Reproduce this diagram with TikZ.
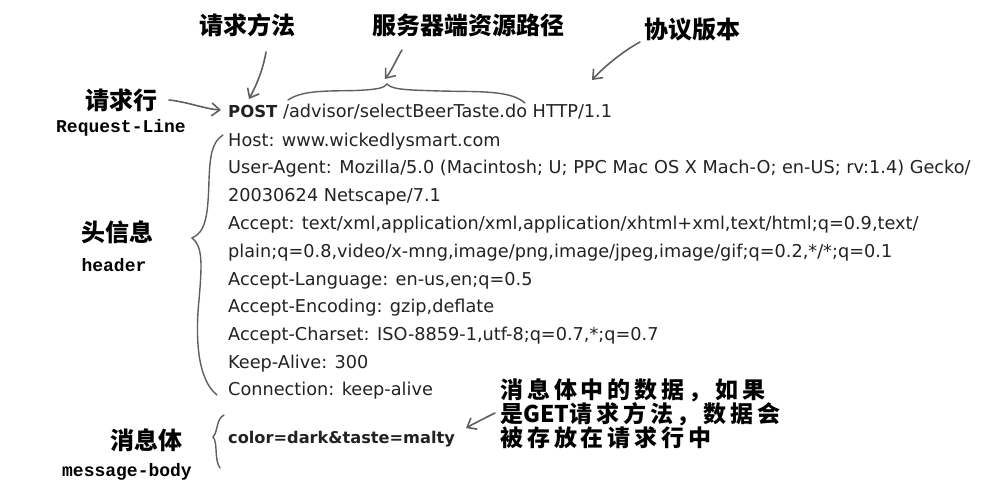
\documentclass[tikz,border=0pt]{standalone}
\usepackage{fontspec}
\setmainfont{DejaVu Sans}
\newfontfamily\cjk{Noto Sans CJK SC}
\newfontfamily\cjknote{Noto Sans CJK SC}[LetterSpace=17]
\newfontfamily\monob{Liberation Mono}
\usetikzlibrary{arrows.meta}
\definecolor{ink}{RGB}{34,34,34}
\definecolor{pen}{RGB}{95,95,95}
\tikzset{
  body/.style={anchor=base west, inner sep=0pt, text=ink, font=\fontsize{17.7}{20}\selectfont},
  cn/.style={inner sep=0pt, text=black, font=\cjk\bfseries\fontsize{24}{24}\selectfont},
  mono/.style={inner sep=0pt, text=black, font=\monob\bfseries\fontsize{18}{18}\selectfont},
  arr/.style={draw=pen, line width=1.6pt, line cap=round, -{Straight Barb[length=8pt,width=13pt]}},
  bracel/.style={draw=pen, line width=1.4pt, line cap=round},
}
\begin{document}
\begin{tikzpicture}[x=1pt,y=-1pt]
\useasboundingbox (0,0) rectangle (986,500);
% labels
\node[cn] (m1) at (247,25) {请求方法};
\node[cn] (m2) at (468,25) {服务器端资源路径};
\node[cn] (m3) at (692,30) {协议版本};
\node[cn] (rl) at (121,100) {请求行};
\node[mono] (rlen) at (121,128) {Request-Line};
\node[cn] (hd) at (117,232) {头信息};
\node[mono] (hden) at (114,265) {header};
\node[cn] (mb) at (146,440) {消息体};
\node[mono] (mben) at (127,472) {message-body};
\node[cn, anchor=north west, align=left, font=\cjknote\bfseries\fontsize{23}{23.5}\selectfont] (note) at (500,378)
  {消息体中的数据，如果\\是{\cjk GET}请求方法，数据会\\被存放在请求行中};
% request body
\node[body] (l0) at (228,118) {{\fontsize{16.5}{20}\selectfont\bfseries POST} /advisor/selectBeerTaste.do HTTP/1.1};
\node[body] (l1) at (228,146.5) {Host: www.wickedlysmart.com};
\node[body] (l2) at (228,174) {User-Agent: Mozilla/5.0 (Macintosh; U; PPC Mac OS X Mach-O; en-US; rv:1.4) Gecko/};
\node[body] (l3) at (228,202) {20030624 Netscape/7.1};
\node[body] (l4) at (228,229.5) {Accept: text/xml,application/xml,application/xhtml+xml,text/html;q=0.9,text/};
\node[body] (l5) at (228,257) {plain;q=0.8,video/x-mng,image/png,image/jpeg,image/gif;q=0.2,*/*;q=0.1};
\node[body] (l6) at (228,285) {Accept-Language: en-us,en;q=0.5};
\node[body] (l7) at (228,312.5) {Accept-Encoding: gzip,deflate};
\node[body] (l8) at (228,340) {Accept-Charset: ISO-8859-1,utf-8;q=0.7,*;q=0.7};
\node[body] (l9) at (228,368) {Keep-Alive: 300};
\node[body] (l10) at (228,395.5) {Connection: keep-alive};
\node[body, font=\fontsize{16.2}{20}\selectfont\bfseries] (l11) at (228,443) {color=dark\&taste=malty};
% arrow end points
\coordinate (a1s) at (266,52);  \coordinate (a1e) at (249,99);
\coordinate (a2s) at (402,50);  \coordinate (a2e) at (385,79);
\coordinate (a3s) at (640,42);  \coordinate (a3e) at (592,80);
\coordinate (a4s) at (169,100); \coordinate (a4e) at (221,110);
\coordinate (a5s) at (495,413); \coordinate (a5e) at (466,428);
\draw[arr] (a1s) .. controls (263,70) and (256,86) .. (a1e);
\draw[arr] (a2s) .. controls (397,58) and (392,70) .. (a2e);
\draw[arr] (a3s) .. controls (622,52) and (605,66) .. (a3e);
\draw[arr] (a4s) .. controls (188,102) and (205,109) .. (a4e);
\draw[arr] (a5s) .. controls (485,418) and (475,423) .. (a5e);
% braces
\draw[bracel] (288,100) .. controls (305,88) and (340,92) .. (365,90)
  .. controls (378,89) and (384,88) .. (387,84)
  .. controls (392,90) and (410,90) .. (440,91)
  .. controls (480,92) and (510,90) .. (525,103);
\draw[bracel] (223,135) .. controls (212,142) and (210,155) .. (209,180)
  .. controls (208,215) and (206,232) .. (192,238)
  .. controls (203,246) and (202,265) .. (199,300)
  .. controls (195,340) and (198,380) .. (217,395);
\draw[bracel] (224,415) .. controls (216,419) and (218,432) .. (213,437)
  .. controls (218,442) and (214,460) .. (220,468);
\end{tikzpicture}
\end{document}
